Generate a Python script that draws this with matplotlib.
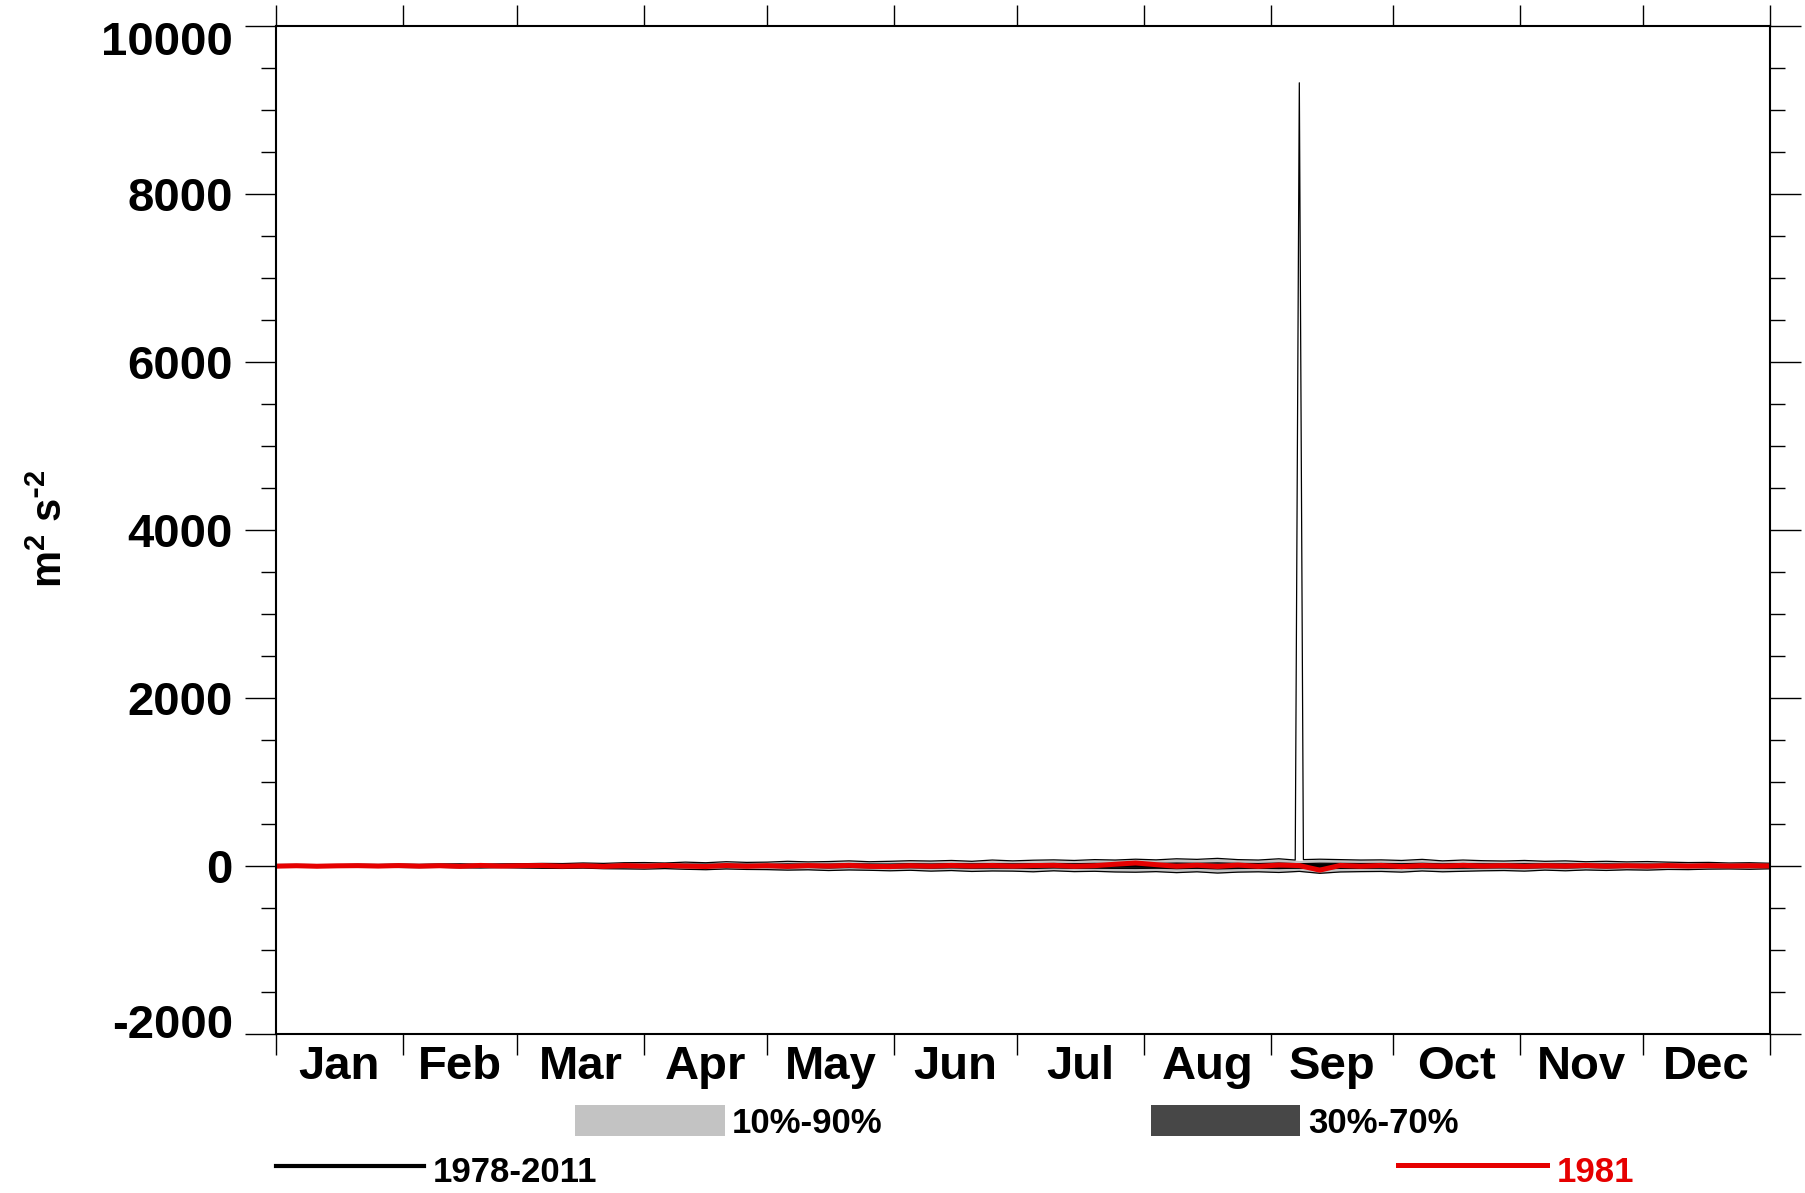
import numpy as np
import matplotlib
matplotlib.use('Agg')
import matplotlib.pyplot as plt
from matplotlib.ticker import MultipleLocator
from matplotlib.lines import Line2D
from matplotlib.patches import Rectangle
from matplotlib.transforms import ScaledTranslation

plt.rcParams['font.family']=['Liberation Sans','DejaVu Sans']
plt.rcParams['font.weight']='bold'
plt.rcParams['mathtext.default']='regular'
plt.rcParams['axes.unicode_minus']=False

# ---- data ----
months=['Jan','Feb','Mar','Apr','May','Jun','Jul','Aug','Sep','Oct','Nov','Dec']
month_start=[0,31,59,90,120,151,181,212,243,273,304,334,365]
yticks=[-2000,0,2000,4000,6000,8000,10000]
days=np.arange(0,366,5)  # 5-day steps, 74 points

p90=[10,12,15,14,18,16,
     20,18,22,25,20,24,
     26,30,28,35,30,38,
     40,35,45,38,50,42,
     45,55,48,52,60,50,
     55,62,58,65,55,70,
     60,68,72,65,75,70,
     80,72,85,78,90,75,
     70,85,65,80,75,70,
     72,65,78,60,70,62,
     58,65,55,60,50,55,
     48,52,45,40,42,35,38,32]
p70=[4,5,6,6,7,7,
     8,7,9,10,8,10,
     10,12,11,14,12,15,
     16,14,18,15,20,17,
     18,22,19,21,24,20,
     22,25,23,26,22,28,
     24,27,29,26,30,28,
     32,29,34,31,36,30,
     28,34,26,32,30,28,
     29,26,31,24,28,25,
     23,26,22,24,20,22,
     19,21,18,16,17,14,15,13]
p30=[-4,-5,-6,-5,-6,-6,
     -7,-8,-7,-9,-10,-8,
     -10,-11,-12,-10,-13,-14,
     -15,-13,-16,-18,-14,-17,
     -18,-20,-18,-22,-19,-21,
     -23,-21,-25,-22,-26,-24,
     -25,-28,-23,-27,-26,-29,
     -30,-27,-32,-28,-34,-30,
     -28,-31,-26,-35,-29,-27,
     -26,-30,-24,-28,-26,-23,
     -22,-25,-20,-23,-19,-22,
     -18,-20,-17,-18,-15,-14,-16,-14]
p10=[-10,-12,-14,-13,-16,-15,
     -18,-20,-17,-22,-24,-20,
     -25,-28,-30,-26,-33,-35,
     -38,-32,-40,-45,-36,-42,
     -44,-50,-46,-55,-48,-52,
     -58,-52,-62,-55,-66,-60,
     -62,-70,-58,-68,-64,-72,
     -75,-68,-80,-70,-85,-74,
     -70,-78,-65,-88,-72,-68,
     -66,-74,-60,-70,-64,-58,
     -55,-62,-50,-58,-48,-54,
     -46,-50,-42,-44,-38,-36,-40,-34]
clim_mean=[0,1,-1,0,1,0,
           1,-1,2,0,-2,1,
           2,-1,1,3,-2,2,
           1,-3,2,4,-1,3,
           -2,3,1,-3,2,4,
           -1,3,-2,2,5,-3,
           2,-4,3,1,-2,4,
           3,-1,5,-3,2,6,
           -2,4,-5,3,1,-2,
           2,-3,4,-1,3,-2,
           1,-2,3,0,-1,2,
           1,-1,2,0,1,-1,2,0]
y1981=[-3,2,-4,1,3,-2,
       4,-3,2,-5,6,-2,
       3,5,-4,2,-6,4,
       -3,6,-2,-7,5,-4,
       3,-6,4,-2,7,-5,
       -8,3,-4,6,-2,5,
       -3,4,7,-5,3,20,
       35,15,-4,8,-6,10,
       -5,10,4,-50,6,-4,
       6,-8,5,-3,7,-2,
       4,-5,3,-2,6,-4,
       2,-3,4,-2,3,-1,2,0]
# the single-day spike in the upper envelope (early September)
spike_days=[249,250,251]
spike_vals=[70,9320,75]

# upper envelope with the spike merged in
keep=~np.isin(days,spike_days)
up_x=np.concatenate([days[keep],spike_days])
up_y=np.concatenate([np.array(p90)[keep],spike_vals])
order=np.argsort(up_x)
up_x,up_y=up_x[order],up_y[order]

red='#e60000'

fig=plt.figure(figsize=(18.06,11.93),dpi=100)
ax=fig.add_axes([0.1528,0.1333,0.8273,0.8452])

ax.fill_between(days,p10,p90,color='#c3c3c3',lw=0)
ax.fill_between(days,p30,p70,color='#474747',lw=0)
for s in (p10,p30,p70):
    ax.plot(days,s,color='k',lw=0.9)
ax.plot(up_x,up_y,color='k',lw=0.9)
ax.plot(days,clim_mean,color='k',lw=2.9)
ax.plot(days,y1981,color=red,lw=3.6)

# axes
ax.set_xlim(0,365)
ax.set_ylim(-2000,10000)
mid=[(a+b)/2 for a,b in zip(month_start[:-1],month_start[1:])]
ax.set_xticks(month_start,labels=['']*len(month_start))
ax.set_xticks(mid,labels=months,minor=True)
ax.tick_params(axis='x',which='major',direction='out',top=True,bottom=True,length=15,width=1.0)
ax.tick_params(axis='x',which='minor',length=0,pad=8,labelsize=34)

ax.set_yticks(yticks)
ax.yaxis.set_minor_locator(MultipleLocator(500))
ax.tick_params(axis='y',which='both',direction='out',left=True,right=True,width=1.0)
ax.tick_params(axis='y',which='major',length=22,pad=9,labelsize=34)
ax.tick_params(axis='y',which='minor',length=10.5)
for sp in ax.spines.values():
    sp.set_linewidth(1.5)

# keep the end labels inside the axis range, like the original
ylabs=ax.get_yticklabels()
ylabs[0].set_transform(ylabs[0].get_transform()+ScaledTranslation(0,0.13,fig.dpi_scale_trans))
ylabs[-1].set_transform(ylabs[-1].get_transform()+ScaledTranslation(0,-0.12,fig.dpi_scale_trans))

fig.text(0.028,0.557,r'm$^{2}$ s$^{\text{-}2}$',rotation=90,ha='center',va='center',fontsize=30)

# legend below the plot
fig.add_artist(Rectangle((0.3184,0.0478),0.0831,0.026,transform=fig.transFigure,color='#c3c3c3',lw=0))
fig.text(0.4053,0.0503,'10%-90%',fontsize=25,va='baseline')
fig.add_artist(Rectangle((0.6373,0.0478),0.0825,0.026,transform=fig.transFigure,color='#474747',lw=0))
fig.text(0.7243,0.0503,'30%-70%',fontsize=25,va='baseline')
fig.add_artist(Line2D([0.1528,0.2348],[0.0226,0.0226],color='k',lw=3,transform=fig.transFigure))
fig.text(0.2398,0.0092,'1978-2011',fontsize=25,va='baseline')
fig.add_artist(Line2D([0.7741,0.8566],[0.0235,0.0235],color=red,lw=3.6,transform=fig.transFigure))
fig.text(0.8621,0.0092,'1981',fontsize=25,va='baseline',color=red)

fig.savefig('out.png',dpi=100)
